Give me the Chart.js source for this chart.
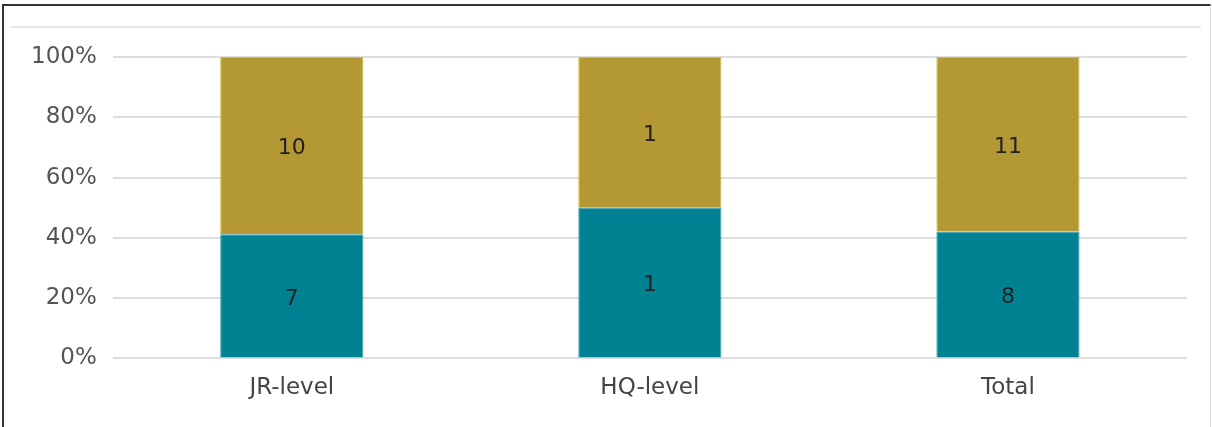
<!DOCTYPE html>
<html>
<head>
<meta charset="utf-8">
<script src="https://cdn.jsdelivr.net/npm/chart.js@4.4.1/dist/chart.umd.min.js"></script>
<style>
  html, body { margin: 0; padding: 0; background: #fff; }
  #wrap { position: relative; width: 1212px; height: 427px; overflow: hidden; }
  #frame { position: absolute; left: 2px; top: 4px; width: 1206px; height: 440px;
           border-top: 2px solid #333; border-left: 2px solid #333; border-right: 1px solid #ddd; }
  canvas { position: absolute; left: 0; top: 0; }
</style>
</head>
<body>
<div id="wrap">
  <div id="frame"></div>
  <canvas id="chart" width="1212" height="427"></canvas>
</div>
<script>
// dados do gráfico
const categories = ['JR-level', 'HQ-level', 'Total'];
const lowerCounts = [7, 1, 8];     // teal (parte de baixo)
const upperCounts = [10, 1, 11];   // dourado (parte de cima)
const yTicks = ['0%', '20%', '40%', '60%', '80%', '100%'];

// transformar contagens em percentagens (gráfico 100% empilhado)
const totals = categories.map((c, i) => lowerCounts[i] + upperCounts[i]);
const lowerShare = lowerCounts.map((v, i) => v / totals[i] * 100);
const upperShare = upperCounts.map((v, i) => v / totals[i] * 100);

const font = "'DejaVu Sans', sans-serif";

// escreve o número dentro de cada segmento
const barLabels = {
    id: 'barLabels',
    afterDatasetsDraw(chart) {
        const ctx = chart.ctx;
        const counts = [lowerCounts, upperCounts];
        ctx.save();
        ctx.font = '22px ' + font;
        ctx.fillStyle = '#222';
        ctx.textAlign = 'center';
        ctx.textBaseline = 'middle';
        chart.data.datasets.forEach((ds, d) => {
            chart.getDatasetMeta(d).data.forEach((bar, i) => {
                const mid = (bar.y + bar.base) / 2 + 3;
                ctx.fillText(String(counts[d][i]), bar.x, mid);
            });
        });
        ctx.restore();
    }
};

// linha clara no topo da área do gráfico
const topLine = {
    id: 'topLine',
    beforeDraw(chart) {
        const ctx = chart.ctx;
        ctx.save();
        ctx.strokeStyle = '#e8e8e8';
        ctx.lineWidth = 2;
        ctx.beginPath();
        ctx.moveTo(11, 27);
        ctx.lineTo(1201, 27);
        ctx.stroke();
        ctx.restore();
    }
};

const ctx = document.getElementById('chart').getContext('2d');
const chart = new Chart(ctx, {
    type: 'bar',
    data: {
        labels: categories,
        datasets: [{
            data: lowerShare,
            backgroundColor: '#018292',
            borderColor: '#3f9fb0',
            borderWidth: 1,
            categoryPercentage: 0.4,
            barPercentage: 1
        }, {
            data: upperShare,
            backgroundColor: '#b39834',
            borderColor: '#d2bf3a',
            borderWidth: 1,
            categoryPercentage: 0.4,
            barPercentage: 1
        }]
    },
    options: {
        responsive: false,
        animation: false,
        devicePixelRatio: 1,
        layout: { padding: { top: 57, left: 15, right: 25, bottom: 9 } },
        plugins: {
            legend: { display: false },
            tooltip: { enabled: false }
        },
        scales: {
            x: {
                stacked: true,
                grid: { display: false, drawTicks: false },
                border: { display: false },
                ticks: { color: '#444', font: { family: font, size: 23 }, padding: 16 }
            },
            y: {
                stacked: true,
                min: 0,
                max: 100,
                afterBuildTicks(axis) {
                    axis.ticks = yTicks.map(t => ({ value: parseFloat(t) }));
                },
                grid: { color: '#dedede', lineWidth: 2, drawTicks: false },
                border: { display: false },
                ticks: {
                    color: '#555',
                    padding: 16,
                    font: { family: font, size: 23 },
                    callback: (v) => v + '%'
                }
            }
        }
    },
    plugins: [topLine, barLabels]
});
</script>
</body>
</html>
